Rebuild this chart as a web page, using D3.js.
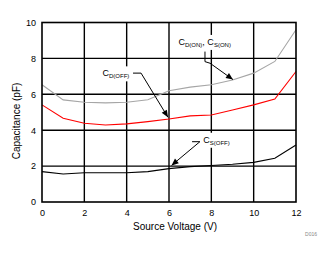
<!DOCTYPE html>
<html>
<head>
<meta charset="utf-8">
<script src="https://cdn.jsdelivr.net/npm/d3@7/dist/d3.min.js"></script>
<style>
  body { margin: 0; background: #fff; }
  text { font-family: "Liberation Sans", Arial, sans-serif; fill: #000; }
</style>
</head>
<body>
<div id="chart"></div>
<script>
// DATA
var voltage = [0, 1, 2, 3, 4, 5, 6, 7, 8, 9, 10, 11, 12];
var cOn  = [6.53, 5.69, 5.56, 5.52, 5.56, 5.7, 6.2, 6.4, 6.53, 6.8, 7.18, 7.83, 9.6];
var cDOff = [5.41, 4.67, 4.39, 4.29, 4.35, 4.48, 4.62, 4.8, 4.85, 5.13, 5.41, 5.74, 7.27];
var cSOff = [1.69, 1.56, 1.63, 1.63, 1.63, 1.69, 1.86, 1.97, 2.03, 2.1, 2.21, 2.44, 3.18];
var xTicks = [0, 2, 4, 6, 8, 10, 12];
var yTicks = [0, 2, 4, 6, 8, 10];

var series = [
  {name: "on",   values: cOn,   color: "#a6a6a6"},
  {name: "doff", values: cDOff, color: "#ff0000"},
  {name: "soff", values: cSOff, color: "#000000"}
];

// annotation labels, positions in data units
var notes = [
  {main: "C", sub: ["D(OFF)"], at: [2.86, 7.0], leader: [[4.3, 7.18], [4.68, 7.18], [5.95, 4.72]]},
  {main: "C", sub: ["D(ON)", ", C", "S(ON)"], at: [6.45, 8.75], leader: [[7.7, 8.38], [7.7, 7.82], [7.94, 7.73], [9.02, 6.82]]},
  {main: "C", sub: ["S(OFF)"], at: [7.62, 3.3], leader: [[7.09, 3.36], [7.46, 3.36], [6.12, 2.04]]}
];

var margin = {top: 22.5, right: 33, bottom: 52, left: 42},
    width = 329 - margin.left - margin.right,
    height = 254 - margin.top - margin.bottom;

var root = d3.select("#chart")
  .append("svg")
  .attr("width", 329)
  .attr("height", 254);

var svg = root.append("g")
  .attr("transform", "translate(" + margin.left + "," + margin.top + ")");

var x = d3.scaleLinear().domain([0, 12]).range([0, width]);
var y = d3.scaleLinear().domain([0, 10]).range([height, 0]);

// grid
svg.selectAll(".vgrid")
  .data(xTicks.slice(1, -1))
  .enter().append("line")
  .attr("x1", function(d) { return x(d); })
  .attr("x2", function(d) { return x(d); })
  .attr("y1", 0).attr("y2", height)
  .attr("stroke", "#000").attr("stroke-width", 1.4);

svg.selectAll(".hgrid")
  .data(yTicks.slice(1, -1))
  .enter().append("line")
  .attr("y1", function(d) { return y(d); })
  .attr("y2", function(d) { return y(d); })
  .attr("x1", 0).attr("x2", width)
  .attr("stroke", "#000").attr("stroke-width", 1.4);

// axes (labels only, frame drawn separately)
var xAxis = d3.axisBottom(x).tickValues(xTicks).tickSize(0).tickPadding(8);
svg.append("g")
  .attr("transform", "translate(0," + height + ")")
  .call(xAxis)
  .call(function(g) { g.select(".domain").remove(); })
  .selectAll("text").attr("font-size", 9).attr("font-family", "Liberation Sans, Arial, sans-serif");

var yAxis = d3.axisLeft(y).tickValues(yTicks).tickSize(0).tickPadding(6);
svg.append("g")
  .call(yAxis)
  .call(function(g) { g.select(".domain").remove(); })
  .selectAll("text").attr("font-size", 9).attr("font-family", "Liberation Sans, Arial, sans-serif");

// lines
var line = d3.line()
  .x(function(d, i) { return x(voltage[i]); })
  .y(function(d) { return y(d); });

svg.selectAll(".series")
  .data(series)
  .enter().append("path")
  .attr("d", function(d) { return line(d.values); })
  .attr("fill", "none")
  .attr("stroke", function(d) { return d.color; })
  .attr("stroke-width", 1.1);

// annotations
notes.forEach(function(n) {
  var g = svg.append("g");
  var box = g.append("rect").attr("fill", "#fff");
  var t = g.append("text")
    .attr("x", x(n.at[0]))
    .attr("y", y(n.at[1]))
    .attr("font-size", 9);
  t.append("tspan").text(n.main);
  n.sub.forEach(function(s, i) {
    if (i % 2 == 0) {
      t.append("tspan").attr("font-size", 6).attr("dy", 2).text(s);
    } else {
      t.append("tspan").attr("font-size", 9).attr("dy", -2).text(s);
    }
  });
  // white box behind the label
  var bb = t.node().getBBox();
  box.attr("x", bb.x - 2).attr("y", bb.y - 2)
    .attr("width", bb.width + 4).attr("height", bb.height + 4);

  var pts = n.leader.map(function(p) { return [x(p[0]), y(p[1])]; });
  g.append("path")
    .attr("d", d3.line()(pts))
    .attr("fill", "none")
    .attr("stroke", "#000")
    .attr("stroke-width", 1);

  // arrow head at last point
  var a = pts[pts.length - 2], b = pts[pts.length - 1];
  var ang = Math.atan2(b[1] - a[1], b[0] - a[0]);
  var L = 7, W = 3;
  var p1 = [b[0] - L * Math.cos(ang) + W * Math.sin(ang), b[1] - L * Math.sin(ang) - W * Math.cos(ang)];
  var p2 = [b[0] - L * Math.cos(ang) - W * Math.sin(ang), b[1] - L * Math.sin(ang) + W * Math.cos(ang)];
  g.append("path")
    .attr("d", "M" + b + "L" + p1 + "L" + p2 + "Z")
    .attr("fill", "#000");
});

// frame
svg.append("rect")
  .attr("width", width).attr("height", height)
  .attr("fill", "none").attr("stroke", "#000").attr("stroke-width", 1.6);

// titles
root.append("text")
  .attr("x", 175).attr("y", 230)
  .attr("text-anchor", "middle")
  .attr("font-size", 10)
  .text("Source Voltage (V)");

root.append("text")
  .attr("transform", "translate(20,121) rotate(-90)")
  .attr("text-anchor", "middle")
  .attr("font-size", 10)
  .text("Capacitance (pF)");

root.append("text")
  .attr("x", 317).attr("y", 236)
  .attr("text-anchor", "end")
  .attr("font-size", 5)
  .style("fill", "#888")
  .text("D016");
</script>
</body>
</html>
